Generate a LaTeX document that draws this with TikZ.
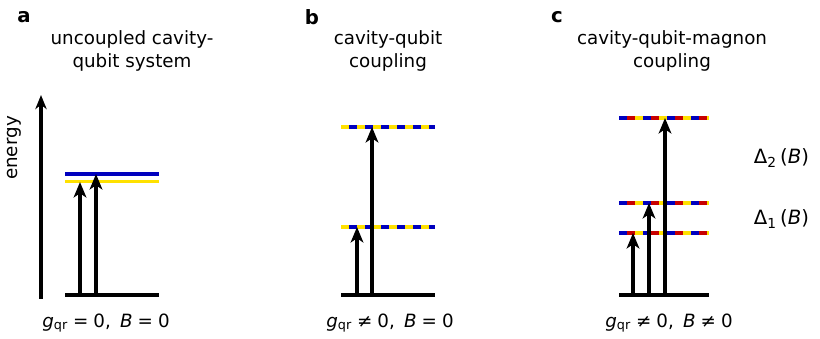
\documentclass[tikz,border=0pt]{standalone}
\usepackage{fontspec}
\setmainfont{DejaVu Sans}
\usetikzlibrary{positioning, arrows.meta, calc}

\begin{document}
\begin{tikzpicture}
    [
        x=0.025cm, y=-0.025cm,
        title/.style={align=center, font=\fontsize{13}{17}\selectfont},
        tag/.style={font=\bfseries\fontsize{14}{16}\selectfont},
        cond/.style={font=\fontsize{13}{15}\selectfont},
        gap/.style={font=\fontsize{14}{16}\selectfont, anchor=west},
        ground/.style={line width=2.8pt},
        level/.style={line width=2.8pt},
        excite/.style={-{Stealth[length=11pt, width=9pt, inset=3pt]}, line width=2.6pt},
        axis/.style={-{Stealth[length=10pt, width=8pt, inset=3pt]}, line width=2.2pt}
    ]
        \useasboundingbox (0,0) rectangle (820,339);
        \definecolor{qblue}{RGB}{0,0,190}
        \definecolor{qyellow}{RGB}{255,225,0}
        \definecolor{qred}{RGB}{200,0,0}
        % =========================================================================
        % NODES
        % =========================================================================
        % --- Panel a ---
        \node [tag] (taga) at (24,17) {a};
        \node [title] (titlea) at (132,51) {uncoupled cavity-\\qubit system};
        \node [rotate=90, font=\fontsize{13}{15}\selectfont] (energy) at (14,148) {energy};
        \node [cond] (conda) at (106,323) {\textit{g}\textsubscript{qr}\;=\;0,\enspace\textit{B}\;=\;0};
        % --- Panel b ---
        \node [tag] (tagb) at (312,17) {b};
        \node [title] (titleb) at (388,51) {cavity-qubit\\coupling};
        \node [cond] (condb) at (390,323) {\textit{g}\textsubscript{qr}\;≠\;0,\enspace\textit{B}\;=\;0};
        % --- Panel c ---
        \node [tag] (tagc) at (557,17) {c};
        \node [title] (titlec) at (672,51) {cavity-qubit-magnon\\coupling};
        \node [cond] (condc) at (669,323) {\textit{g}\textsubscript{qr}\;≠\;0,\enspace\textit{B}\;≠\;0};
        \node [gap] (gap2) at (749,158) {Δ\textsubscript{2}\,(\textit{B})};
        \node [gap] (gap1) at (749,219) {Δ\textsubscript{1}\,(\textit{B})};

        % =========================================================================
        % LEVELS
        % =========================================================================
        % --- Panel a ---
        \coordinate (axis0) at (41,299);
        \coordinate (axis1) at (41,95);
        \coordinate (ga0) at (65,295);   \coordinate (ga1) at (159,295);
        \coordinate (ba0) at (65,174);   \coordinate (ba1) at (159,174);
        \coordinate (ya0) at (65,181.5); \coordinate (ya1) at (159,181.5);
        \draw [axis] (axis0) -- (axis1);
        \draw [ground] (ga0) -- (ga1);
        \draw [level, qblue] (ba0) -- (ba1);
        \draw [level, qyellow] (ya0) -- (ya1);
        % --- Panel b ---
        \coordinate (gb0) at (341,295); \coordinate (gb1) at (435,295);
        \coordinate (lb0) at (341,227); \coordinate (lb1) at (435,227);
        \coordinate (ub0) at (341,127); \coordinate (ub1) at (435,127);
        \draw [ground] (gb0) -- (gb1);
        \foreach \s in {lb, ub} {
            \draw [level, qyellow] (\s0) -- (\s1);
            \draw [level, qblue, dash pattern=on 0.2cm off 0.2cm, dash phase=0.2cm] (\s0) -- (\s1);
        }
        % --- Panel c ---
        \coordinate (gc0) at (619,295); \coordinate (gc1) at (709,295);
        \coordinate (lc0) at (619,233); \coordinate (lc1) at (709,233);
        \coordinate (mc0) at (619,203); \coordinate (mc1) at (709,203);
        \coordinate (uc0) at (619,118); \coordinate (uc1) at (709,118);
        \draw [ground] (gc0) -- (gc1);
        \foreach \s in {lc, mc, uc} {
            \draw [level, qyellow] (\s0) -- (\s1);
            \draw [level, qblue, dash pattern=on 0.2cm off 0.4cm] (\s0) -- (\s1);
            \draw [level, qred, dash pattern=on 0.2cm off 0.4cm, dash phase=0.4cm] (\s0) -- (\s1);
        }

        % =========================================================================
        % PATHS
        % =========================================================================
        % --- Panel a ---
        \draw [excite] (80,295) -- (80,182);
        \draw [excite] (96,295) -- (96,174);
        % --- Panel b ---
        \draw [excite] (357,295) -- (357,227);
        \draw [excite] (372,295) -- (372,127);
        % --- Panel c ---
        \draw [excite] (633,295) -- (633,233);
        \draw [excite] (649,295) -- (649,203);
        \draw [excite] (665,295) -- (665,118);
    \end{tikzpicture}
\end{document}
